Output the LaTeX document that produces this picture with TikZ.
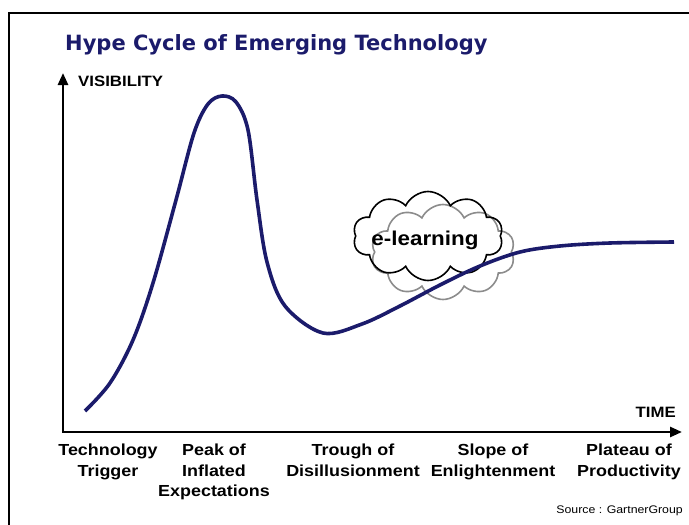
\documentclass[tikz,border=0pt]{standalone}
\usepackage{fontspec}
\setmainfont{Liberation Sans}
\newfontfamily\titlefont{DejaVu Sans}
\newfontfamily\labelfont{Liberation Sans}[FakeStretch=1.12]
\usetikzlibrary{arrows.meta,shapes.symbols}
\definecolor{hypenavy}{HTML}{1B1B6B}
\definecolor{cloudgray}{HTML}{8C8C8C}

\begin{document}
\begin{tikzpicture}[x=1pt,y=-1pt,
  frameline/.style={line width=2.5pt,black},
  axis/.style={line width=2.6pt,black,
    {Triangle[length=12pt,width=10pt]}-{Triangle[length=12pt,width=10pt]}},
  hype/.style={line width=3.6pt,hypenavy,line join=round},
  axislabel/.style={font=\labelfont\bfseries\fontsize{15}{15}\selectfont,inner sep=0pt},
  phase/.style={font=\labelfont\bfseries\fontsize{16}{20.5}\selectfont,
    align=center,inner sep=0pt,anchor=north},
  puff/.style={cloud,cloud puffs=10,cloud puff arc=130,line width=1.6pt,inner sep=0pt},
]
\useasboundingbox (0,0) rectangle (689,525);

% outer frame (open at right and bottom)
\draw[frameline] (9,530) -- (9,13) -- (695,13);

% title
\node[anchor=base west,inner sep=0pt,text=hypenavy,
      font=\titlefont\bfseries\fontsize{21}{21}\selectfont] (title) at (65,50)
  {Hype Cycle of Emerging Technology};

% axes
\coordinate (origin) at (63,432);
\coordinate (ytip) at (63,73);
\coordinate (xtip) at (682,432);
\draw[axis] (ytip) |- (xtip);
\node[axislabel,anchor=west] (vis) at (78,81) {VISIBILITY};
\node[axislabel,anchor=east] (time) at (676,412) {TIME};

% e-learning clouds
\node[puff,draw=cloudgray,minimum width=144pt,minimum height=95pt] (cloudB) at (443,252) {};
\node[puff,draw=black,minimum width=150pt,minimum height=89pt] (cloudA) at (428,236) {};

% hype curve
\draw[hype] plot[smooth,tension=0.55] coordinates {
  (85,411) (110,383) (133,340) (153,283) (176,200) (194,133)
  (208,104) (222,96) (236,102) (248,130) (257,200) (267,262)
  (285,306) (323,333) (362,324) (400,306) (440,285) (480,266)
  (520,252) (560,246) (610,243) (674,242)};

\node[inner sep=0pt,font=\labelfont\bfseries\fontsize{20}{20}\selectfont] (elearn) at (425,240) {e-learning};

% phase labels
\node[phase] (p1) at (108,444) {Technology\\Trigger};
\node[phase] (p2) at (214,444) {Peak of\\Inflated\\Expectations};
\node[phase] (p3) at (353,444) {Trough of\\Disillusionment};
\node[phase] (p4) at (493,444) {Slope of\\Enlightenment};
\node[phase] (p5) at (629,444) {Plateau of\\Productivity};

% source note
\node[anchor=base east,inner sep=0pt,font=\labelfont\fontsize{11}{11}\selectfont] (src) at (683,513) {Source : GartnerGroup};
\end{tikzpicture}
\end{document}
